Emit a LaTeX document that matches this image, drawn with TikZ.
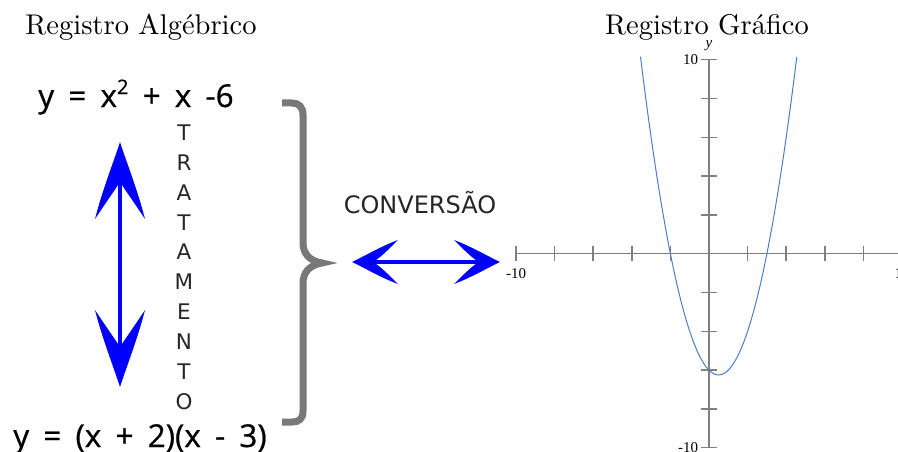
\documentclass[tikz,border=0pt]{standalone}
\usepackage{fontspec}
\setmainfont{Latin Modern Roman}
\newfontfamily\titlefont{lmroman10-regular}[Extension=.otf]
\newfontfamily\eqfont{Open Sans}[AutoFakeBold=0.7]
\newfontfamily\capsfont{DejaVu Sans}
\newfontfamily\plotfont{Liberation Serif}
% small raised exponent used in the expanded form
\newcommand\squaredmark{\raisebox{13pt}{\fontsize{20}{20}\selectfont 2}}
\begin{document}
\begin{tikzpicture}[x=1pt,y=-1pt,
  title/.style={font=\titlefont\fontsize{28.5}{30}\selectfont, anchor=base, inner sep=0pt},
  equation/.style={font=\eqfont\bfseries\fontsize{31.5}{34}\selectfont, anchor=base, inner sep=0pt,
    execute at begin node={\spaceskip=0.45em\relax}},
  letter/.style={font=\capsfont\fontsize{21.5}{23}\selectfont, text=black!85, inner sep=0pt},
  convlabel/.style={font=\capsfont\fontsize{24}{26}\selectfont, text=black!85, inner sep=0pt},
  shaft/.style={draw=arrowblue, line width=3.5pt},
  bracestyle/.style={draw=braceGray, line width=7pt},
  axis/.style={draw=axisGray, line width=1.5pt},
  curve/.style={draw=curveBlue, line width=1pt},
  ticklabel/.style={font=\plotfont\fontsize{15}{16}\selectfont, inner sep=1pt},
  pics/barbhead/.style n args={3}{code={
    \fill[arrowblue] (0,0)
      .. controls (0.3*#2,0.3*#1) and (0.7*#2,0.62*#1) .. (#2,#1)
      .. controls (0.55*#2,0.78*#1) and (0.2*#2,0.62*#1) .. (0,#3)
      .. controls (-0.2*#2,0.62*#1) and (-0.55*#2,0.78*#1) .. (-#2,#1)
      .. controls (-0.7*#2,0.62*#1) and (-0.3*#2,0.3*#1) .. (0,0) -- cycle;
  }}
]
\definecolor{arrowblue}{RGB}{0,0,255}
\definecolor{braceGray}{RGB}{120,120,120}
\definecolor{axisGray}{RGB}{128,128,128}
\definecolor{curveBlue}{RGB}{74,126,198}

\useasboundingbox (0,0) rectangle (898,452);
\clip (0,0) rectangle (898,452);

% titles
\node[title] (tAlg) at (141,35) {Registro Algébrico};
\node[title] (tGraf) at (707,35) {Registro Gráfico};

% the two algebraic forms
\node[equation] (eqTop) at (136,107) {y = x\squaredmark{} + x -6};
\node[equation] (eqBot) at (140,447) {y = (x + 2)(x - 3)};

% vertical letters
\foreach \ch [count=\i from 0] in {T,R,A,T,A,M,E,N,T,O}
  \node[letter] (let\i) at (184,{132.5+29.9*\i}) {\ch};

% treatment arrow
\coordinate (vTop) at (120,142);
\coordinate (vBot) at (120,387);
\draw[shaft, shorten <=30pt, shorten >=30pt] (vTop) -- (vBot);
\pic at (vTop) {barbhead={77}{25}{40}};
\pic[rotate=180] at (vBot) {barbhead={77}{25}{40}};

% brace
\draw[bracestyle] (282,103) -- (292,103)
  .. controls (299,103) and (303,107) .. (303,115)
  -- (303,243)
  .. controls (303,254) and (310,261) .. (322,263)
  .. controls (310,265) and (303,272) .. (303,283)
  -- (303,411)
  .. controls (303,419) and (299,422) .. (292,422)
  -- (282,422);

% conversion arrow
\node[convlabel] (conv) at (420,203) {CONVERSÃO};
\coordinate (hLeft) at (352,262);
\coordinate (hRight) at (500,262);
\draw[shaft, shorten <=18pt, shorten >=18pt] (hLeft) -- (hRight);
\pic[rotate=90] at (hLeft) {barbhead={46}{22}{21}};
\pic[rotate=-90] at (hRight) {barbhead={46}{22}{21}};

% graph of the function
\begin{scope}[shift={(709pt,-253.7pt)}, x=19.3pt, y=19.4pt]
  \draw[axis] (-10,0) -- (10.5,0);
  \draw[axis] (0,-10) -- (0,10);
  \foreach \t in {-10,-8,-6,-4,-2,2,4,6,8,10} {
    \draw[axis] (\t,-0.39) -- (\t,0.39);
    \draw[axis] (-0.39,\t) -- (0.39,\t);
  }
  \node[ticklabel] (xmin) at (-10,-1.05) {-10};
  \node[ticklabel] (xmax) at (10,-1.05) {10};
  \node[ticklabel, anchor=east] (ymax) at (-0.5,10) {10};
  \node[ticklabel, anchor=east] (ymin) at (-0.5,-10) {-10};
  \node[ticklabel, font=\plotfont\itshape\fontsize{15}{16}\selectfont] (ylab) at (0,10.7) {y};
  \draw[curve] plot[domain=-3.55:4.55, samples=120, smooth] (\x,{\x*\x-\x-6});
\end{scope}
\end{tikzpicture}
\end{document}
